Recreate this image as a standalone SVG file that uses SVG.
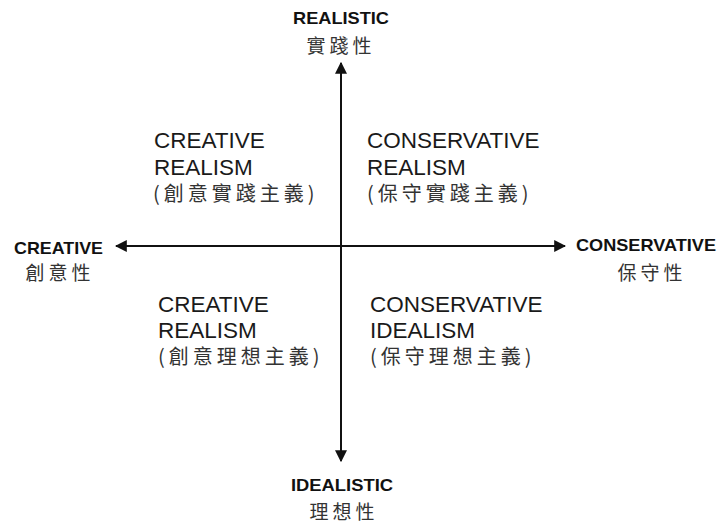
<svg xmlns="http://www.w3.org/2000/svg" width="718" height="523" viewBox="0 0 718 523">
<style>
.ax{font-family:"Liberation Sans",Arial,sans-serif;font-weight:bold;font-size:17px;fill:#111}
.cj{font-family:"Noto Sans CJK TC","Noto Sans CJK SC",serif;font-size:19px;fill:#333;letter-spacing:4px}
.q{font-family:"Liberation Sans",Arial,sans-serif;font-size:22.5px;fill:#1a1a1a}
.qc{font-family:"Noto Sans CJK TC","Noto Sans CJK SC",sans-serif;font-size:20px;fill:#333;letter-spacing:4px}
.ln{stroke:#111;stroke-width:2;fill:none}
</style>
<defs>
<marker id="ah" viewBox="0 0 10 10" refX="9" refY="5" markerWidth="6" markerHeight="6" orient="auto">
<path d="M0,0 L10,5 L0,10 z" fill="#111"/>
</marker>
</defs>
<rect width="718" height="523" fill="#fff"/>
<g id="connectors">
<line class="ln" x1="341" y1="250" x2="341" y2="63" marker-end="url(#ah)"/>
<line class="ln" x1="341" y1="246" x2="341" y2="461" marker-end="url(#ah)"/>
<line class="ln" x1="341" y1="246" x2="116" y2="246" marker-end="url(#ah)"/>
<line class="ln" x1="341" y1="246" x2="565" y2="246" marker-end="url(#ah)"/>
</g>
<g id="top">
<text class="ax" x="341" y="24" text-anchor="middle" textLength="96" lengthAdjust="spacingAndGlyphs">REALISTIC</text>
<text class="cj" x="341" y="53" text-anchor="middle">實踐性</text>
</g>
<g id="left">
<text class="ax" x="14" y="254" textLength="89" lengthAdjust="spacingAndGlyphs">CREATIVE</text>
<text class="cj" x="60" y="280" text-anchor="middle">創意性</text>
</g>
<g id="right">
<text class="ax" x="576" y="251" textLength="140" lengthAdjust="spacingAndGlyphs">CONSERVATIVE</text>
<text class="cj" x="652" y="280" text-anchor="middle">保守性</text>
</g>
<g id="bottom">
<text class="ax" x="342" y="491" text-anchor="middle" textLength="102" lengthAdjust="spacingAndGlyphs">IDEALISTIC</text>
<text class="cj" x="344" y="519" text-anchor="middle">理想性</text>
</g>
<g id="q1">
<text class="q" x="154" y="148">CREATIVE</text>
<text class="q" x="154" y="175">REALISM</text>
<text class="qc" x="153" y="201">(創意實踐主義)</text>
</g>
<g id="q2">
<text class="q" x="367" y="148">CONSERVATIVE</text>
<text class="q" x="367" y="175">REALISM</text>
<text class="qc" x="367" y="201">(保守實踐主義)</text>
</g>
<g id="q3">
<text class="q" x="158" y="312">CREATIVE</text>
<text class="q" x="158" y="338">REALISM</text>
<text class="qc" x="158" y="364">(創意理想主義)</text>
</g>
<g id="q4">
<text class="q" x="370" y="312">CONSERVATIVE</text>
<text class="q" x="370" y="338">IDEALISM</text>
<text class="qc" x="370" y="364">(保守理想主義)</text>
</g>
</svg>
